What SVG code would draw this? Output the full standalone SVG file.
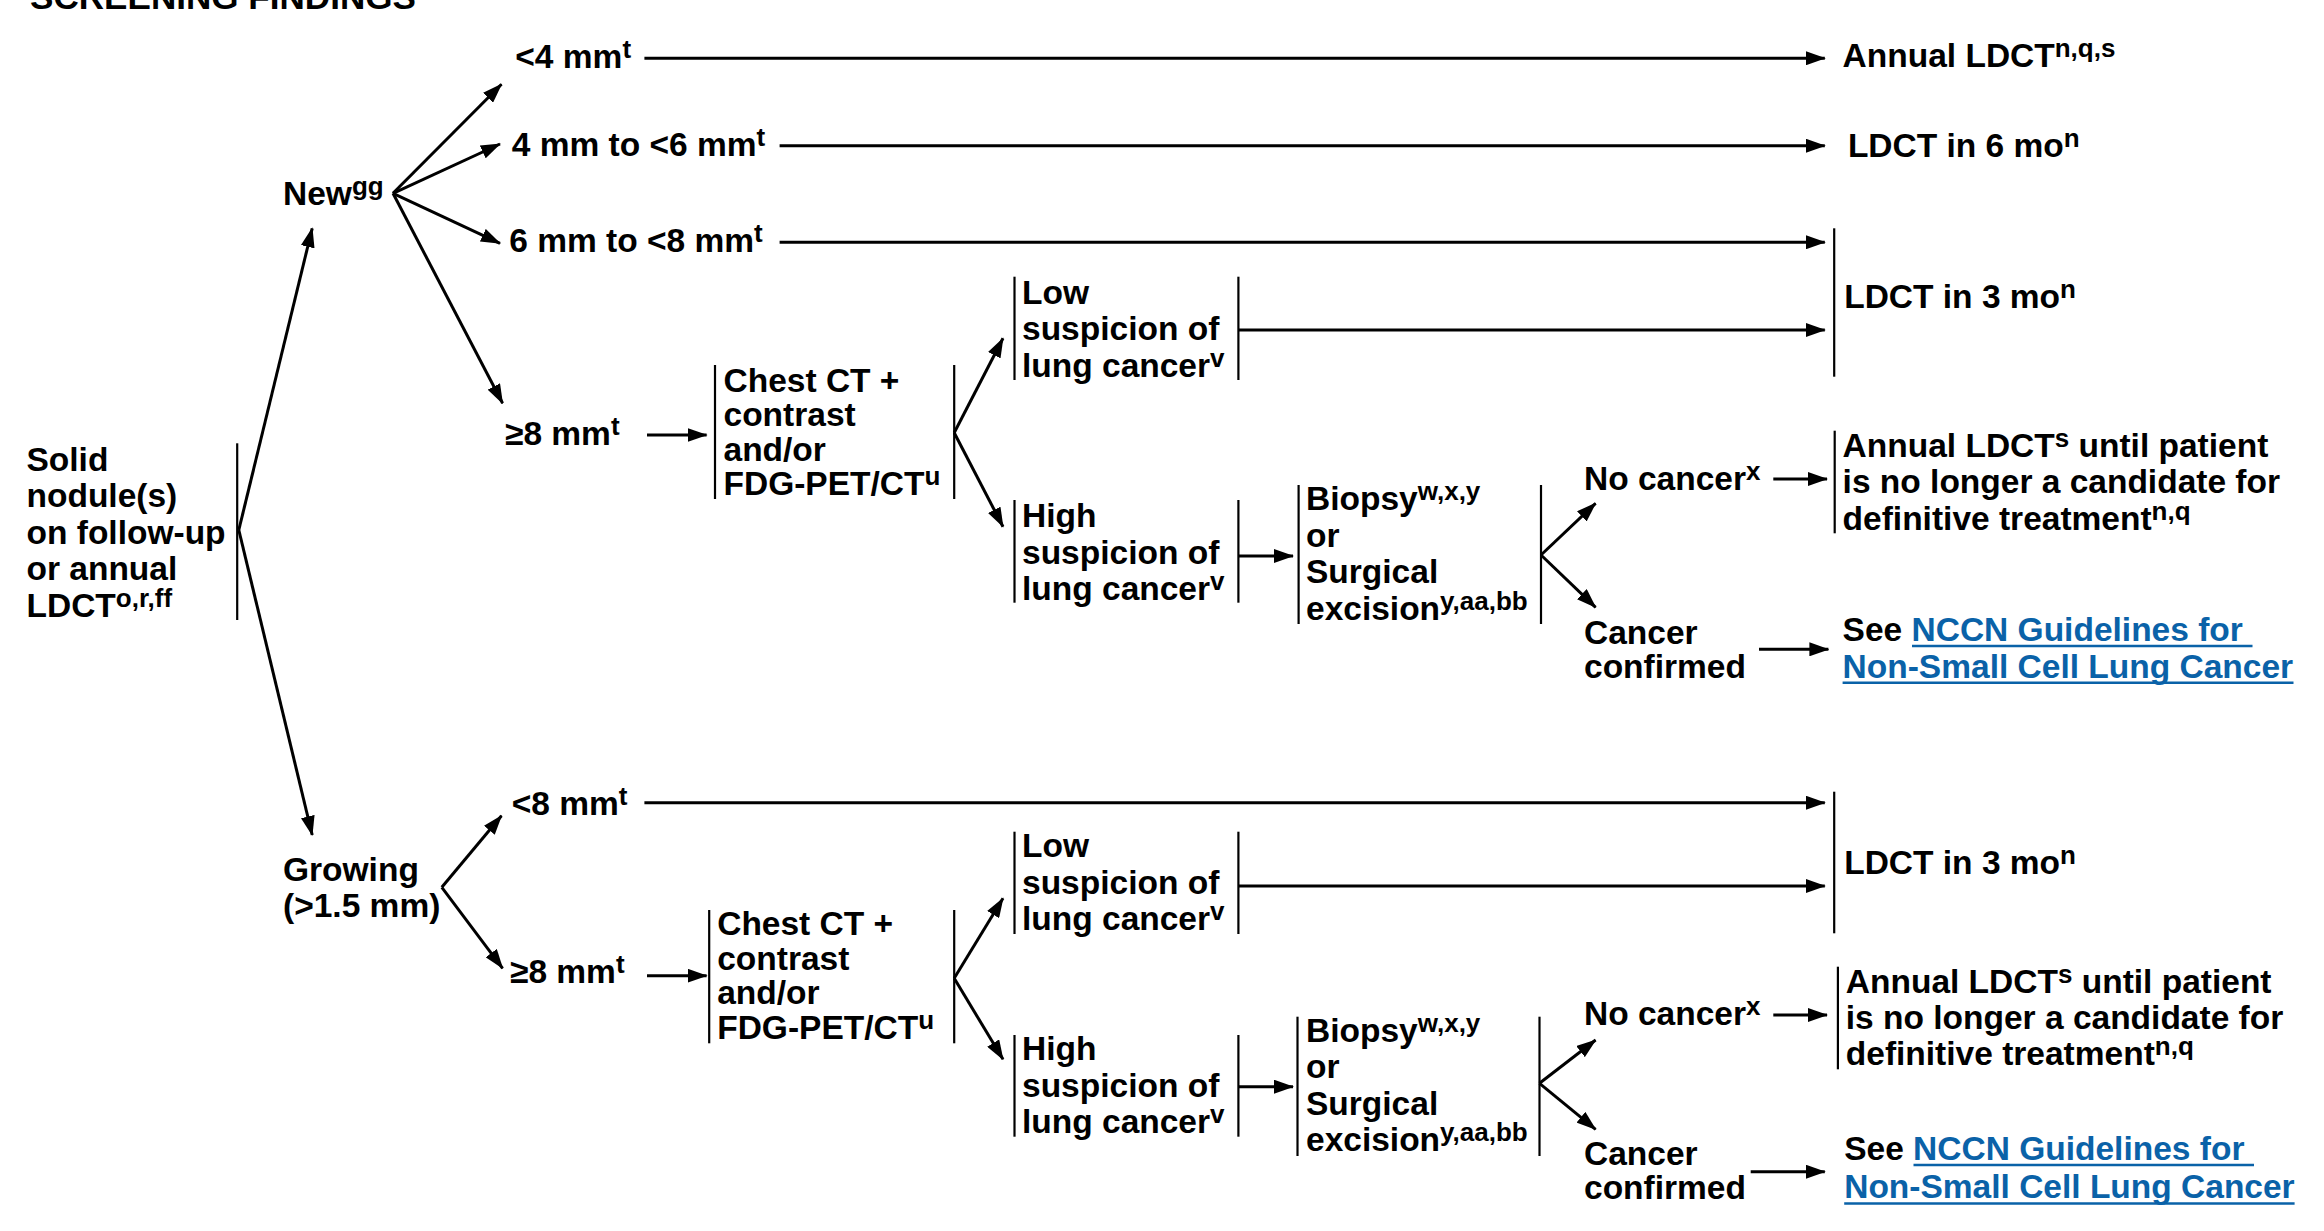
<svg xmlns="http://www.w3.org/2000/svg" width="2324" height="1231" viewBox="0 0 2324 1231">
<style>
.t{font-family:"Liberation Sans",Arial,Helvetica,sans-serif;font-weight:bold;font-size:33.5px;fill:#000}
.s{font-size:26px}
.lk{fill:#0a62a8}
.c{stroke:#000;stroke-width:3;fill:none}
.a{stroke:#000;stroke-width:3;fill:none;marker-end:url(#ah)}
.b{stroke:#000;stroke-width:2.2}
.u{stroke:#0a62a8;stroke-width:2.5}
</style>
<defs>
<marker id="ah" markerUnits="userSpaceOnUse" markerWidth="20" markerHeight="14" refX="19" refY="7" orient="auto">
<path d="M0,0 L20,7 L0,14 z" fill="#000"/>
</marker>
</defs>
<rect width="2324" height="1231" fill="#fff"/>
<text class="t" x="30" y="9" textLength="386" lengthAdjust="spacingAndGlyphs">SCREENING FINDINGS</text>

<g id="connectors">
<line class="a" x1="238.8" y1="530" x2="312.2" y2="228.3"/>
<line class="a" x1="238.8" y1="530" x2="312.2" y2="835"/>
<line class="a" x1="393" y1="193.3" x2="501.5" y2="84.3"/>
<line class="a" x1="393" y1="193.3" x2="500" y2="144"/>
<line class="a" x1="393" y1="193.3" x2="500" y2="243.3"/>
<line class="a" x1="393" y1="193.3" x2="502.6" y2="403.3"/>
<line class="a" x1="644.4" y1="58.3" x2="1824.8" y2="58.3"/>
<line class="a" x1="779.6" y1="145.7" x2="1824.8" y2="145.7"/>
<line class="a" x1="779.6" y1="242.3" x2="1824.8" y2="242.3"/>
<line class="a" x1="647" y1="435" x2="706.6" y2="435"/>
<line class="a" x1="954.2" y1="432.7" x2="1003" y2="338.3"/>
<line class="a" x1="954.2" y1="432.7" x2="1003" y2="526.7"/>
<line class="a" x1="1238.5" y1="330" x2="1824.8" y2="330"/>
<line class="a" x1="1238.5" y1="556" x2="1293" y2="556"/>
<line class="a" x1="1541" y1="555" x2="1595.6" y2="503.3"/>
<line class="a" x1="1541" y1="555" x2="1595.6" y2="607.3"/>
<line class="a" x1="1773.3" y1="479" x2="1827" y2="479"/>
<line class="a" x1="1759" y1="649.3" x2="1828.4" y2="649.3"/>

<line class="a" x1="441.8" y1="887.3" x2="501.5" y2="815.7"/>
<line class="a" x1="441.8" y1="887.3" x2="502.6" y2="968.3"/>
<line class="a" x1="644.4" y1="802.7" x2="1824.8" y2="802.7"/>
<line class="a" x1="647" y1="975.7" x2="706.6" y2="975.7"/>
<line class="a" x1="954.2" y1="978.3" x2="1003" y2="898.3"/>
<line class="a" x1="954.2" y1="978.3" x2="1003" y2="1059.3"/>
<line class="a" x1="1238.5" y1="886" x2="1824.8" y2="886"/>
<line class="a" x1="1238.5" y1="1086.7" x2="1293" y2="1086.7"/>
<line class="a" x1="1539.5" y1="1083.3" x2="1595.6" y2="1040"/>
<line class="a" x1="1539.5" y1="1083.3" x2="1595.6" y2="1129.3"/>
<line class="a" x1="1773.3" y1="1015" x2="1827" y2="1015"/>
<line class="a" x1="1750.7" y1="1171.7" x2="1824.8" y2="1171.7"/>
</g>

<g id="solid">
<line class="b" x1="237.2" y1="443.3" x2="237.2" y2="620"/>
<text class="t"><tspan x="26.5" y="470.7">Solid</tspan><tspan x="26.5" y="507.2">nodule(s)</tspan><tspan x="26.5" y="543.7">on follow-up</tspan><tspan x="26.5" y="580.2">or annual</tspan><tspan x="26.5" y="616.7">LDCT<tspan class="s" dy="-10">o,r,ff</tspan></tspan></text>
</g>

<g id="new"><text class="t" x="283" y="205">New<tspan class="s" dy="-10">gg</tspan></text></g>
<g id="lt4"><text class="t" x="515.3" y="68.3">&lt;4 mm<tspan class="s" dy="-10">t</tspan></text></g>
<g id="r4to6"><text class="t" x="511.7" y="156">4 mm to &lt;6 mm<tspan class="s" dy="-10">t</tspan></text></g>
<g id="r6to8"><text class="t" x="509.2" y="252.3">6 mm to &lt;8 mm<tspan class="s" dy="-10">t</tspan></text></g>
<g id="ge8a"><text class="t" x="505" y="445">≥8 mm<tspan class="s" dy="-10">t</tspan></text></g>

<g id="chest1">
<line class="b" x1="715" y1="365" x2="715" y2="499"/>
<line class="b" x1="954.2" y1="365" x2="954.2" y2="499"/>
<text class="t"><tspan x="723.5" y="391.5">Chest CT +</tspan><tspan x="723.5" y="426">contrast</tspan><tspan x="723.5" y="460.5">and/or</tspan><tspan x="723.5" y="495">FDG-PET/CT<tspan class="s" dy="-10">u</tspan></tspan></text>
</g>

<g id="low1">
<line class="b" x1="1014.5" y1="276.7" x2="1014.5" y2="380"/>
<line class="b" x1="1238.4" y1="276.7" x2="1238.4" y2="380"/>
<text class="t"><tspan x="1022" y="303.5">Low</tspan><tspan x="1022" y="340">suspicion of</tspan><tspan x="1022" y="376.5">lung cancer<tspan class="s" dy="-10">v</tspan></tspan></text>
</g>

<g id="high1">
<line class="b" x1="1014.5" y1="500" x2="1014.5" y2="602.7"/>
<line class="b" x1="1238.4" y1="500" x2="1238.4" y2="602.7"/>
<text class="t"><tspan x="1022" y="527">High</tspan><tspan x="1022" y="563.5">suspicion of</tspan><tspan x="1022" y="599.5">lung cancer<tspan class="s" dy="-10">v</tspan></tspan></text>
</g>

<g id="biopsy1">
<line class="b" x1="1298.6" y1="485" x2="1298.6" y2="624"/>
<line class="b" x1="1541" y1="485" x2="1541" y2="624"/>
<text class="t"><tspan x="1306" y="510">Biopsy<tspan class="s" dy="-10">w,x,y</tspan></tspan><tspan x="1306" y="546.5">or</tspan><tspan x="1306" y="583">Surgical</tspan><tspan x="1306" y="619.5">excision<tspan class="s" dy="-10">y,aa,bb</tspan></tspan></text>
</g>

<g id="nocancer1"><text class="t" x="1584" y="490">No cancer<tspan class="s" dy="-10">x</tspan></text></g>
<g id="confirmed1"><text class="t"><tspan x="1584" y="643.5">Cancer</tspan><tspan x="1584" y="678">confirmed</tspan></text></g>

<g id="annual1"><text class="t" x="1842.6" y="67">Annual LDCT<tspan class="s" dy="-10">n,q,s</tspan></text></g>
<g id="ldct6"><text class="t" x="1847.9" y="157">LDCT in 6 mo<tspan class="s" dy="-10">n</tspan></text></g>
<g id="ldct3a">
<line class="b" x1="1834.2" y1="228.3" x2="1834.2" y2="376.7"/>
<text class="t" x="1844.2" y="308.3">LDCT in 3 mo<tspan class="s" dy="-10">n</tspan></text>
</g>
<g id="until1">
<line class="b" x1="1834.7" y1="430.7" x2="1834.7" y2="533.3"/>
<text class="t"><tspan x="1842.6" y="456.5">Annual LDCT<tspan class="s" dy="-10">s</tspan><tspan dy="10"> until patient</tspan></tspan><tspan x="1842.6" y="493">is no longer a candidate for</tspan><tspan x="1842.6" y="529.5">definitive treatment<tspan class="s" dy="-10">n,q</tspan></tspan></text>
</g>
<g id="nsclc1">
<text class="t"><tspan x="1842.6" y="641">See <tspan class="lk">NCCN Guidelines for</tspan></tspan><tspan class="lk" x="1842.6" y="677.5">Non-Small Cell Lung Cancer</tspan></text>
<line class="u" x1="1912" y1="646" x2="2252.5" y2="646"/>
<line class="u" x1="1842.6" y1="682.7" x2="2293.5" y2="682.7"/>
</g>

<g id="growing"><text class="t"><tspan x="283" y="880.7">Growing</tspan><tspan x="283" y="916.7">(&gt;1.5 mm)</tspan></text></g>
<g id="lt8"><text class="t" x="511.7" y="815">&lt;8 mm<tspan class="s" dy="-10">t</tspan></text></g>
<g id="ge8b"><text class="t" x="510" y="983.3">≥8 mm<tspan class="s" dy="-10">t</tspan></text></g>

<g id="chest2">
<line class="b" x1="709.2" y1="910" x2="709.2" y2="1043.3"/>
<line class="b" x1="954.2" y1="910" x2="954.2" y2="1043.3"/>
<text class="t"><tspan x="717.2" y="935">Chest CT +</tspan><tspan x="717.2" y="969.5">contrast</tspan><tspan x="717.2" y="1004">and/or</tspan><tspan x="717.2" y="1038.5">FDG-PET/CT<tspan class="s" dy="-10">u</tspan></tspan></text>
</g>

<g id="low2">
<line class="b" x1="1014.5" y1="831.7" x2="1014.5" y2="934"/>
<line class="b" x1="1238.4" y1="831.7" x2="1238.4" y2="934"/>
<text class="t"><tspan x="1022" y="857">Low</tspan><tspan x="1022" y="893.5">suspicion of</tspan><tspan x="1022" y="930">lung cancer<tspan class="s" dy="-10">v</tspan></tspan></text>
</g>

<g id="high2">
<line class="b" x1="1014.5" y1="1035" x2="1014.5" y2="1136.7"/>
<line class="b" x1="1238.4" y1="1035" x2="1238.4" y2="1136.7"/>
<text class="t"><tspan x="1022" y="1060">High</tspan><tspan x="1022" y="1096.5">suspicion of</tspan><tspan x="1022" y="1133">lung cancer<tspan class="s" dy="-10">v</tspan></tspan></text>
</g>

<g id="biopsy2">
<line class="b" x1="1297.5" y1="1016.7" x2="1297.5" y2="1156"/>
<line class="b" x1="1539.5" y1="1016.7" x2="1539.5" y2="1156"/>
<text class="t"><tspan x="1306" y="1041.5">Biopsy<tspan class="s" dy="-10">w,x,y</tspan></tspan><tspan x="1306" y="1078">or</tspan><tspan x="1306" y="1114.5">Surgical</tspan><tspan x="1306" y="1151">excision<tspan class="s" dy="-10">y,aa,bb</tspan></tspan></text>
</g>

<g id="nocancer2"><text class="t" x="1584" y="1025">No cancer<tspan class="s" dy="-10">x</tspan></text></g>
<g id="confirmed2"><text class="t"><tspan x="1584" y="1165">Cancer</tspan><tspan x="1584" y="1199">confirmed</tspan></text></g>

<g id="ldct3b">
<line class="b" x1="1834.2" y1="791.7" x2="1834.2" y2="933.3"/>
<text class="t" x="1844.2" y="874">LDCT in 3 mo<tspan class="s" dy="-10">n</tspan></text>
</g>
<g id="until2">
<line class="b" x1="1837.9" y1="966.7" x2="1837.9" y2="1069.3"/>
<text class="t"><tspan x="1845.8" y="993">Annual LDCT<tspan class="s" dy="-10">s</tspan><tspan dy="10"> until patient</tspan></tspan><tspan x="1845.8" y="1029">is no longer a candidate for</tspan><tspan x="1845.8" y="1065">definitive treatment<tspan class="s" dy="-10">n,q</tspan></tspan></text>
</g>
<g id="nsclc2">
<text class="t"><tspan x="1844.2" y="1160">See <tspan class="lk">NCCN Guidelines for</tspan></tspan><tspan class="lk" x="1844.2" y="1198.3">Non-Small Cell Lung Cancer</tspan></text>
<line class="u" x1="1913.5" y1="1165" x2="2254" y2="1165"/>
<line class="u" x1="1844.2" y1="1203.5" x2="2294.6" y2="1203.5"/>
</g>
</svg>
